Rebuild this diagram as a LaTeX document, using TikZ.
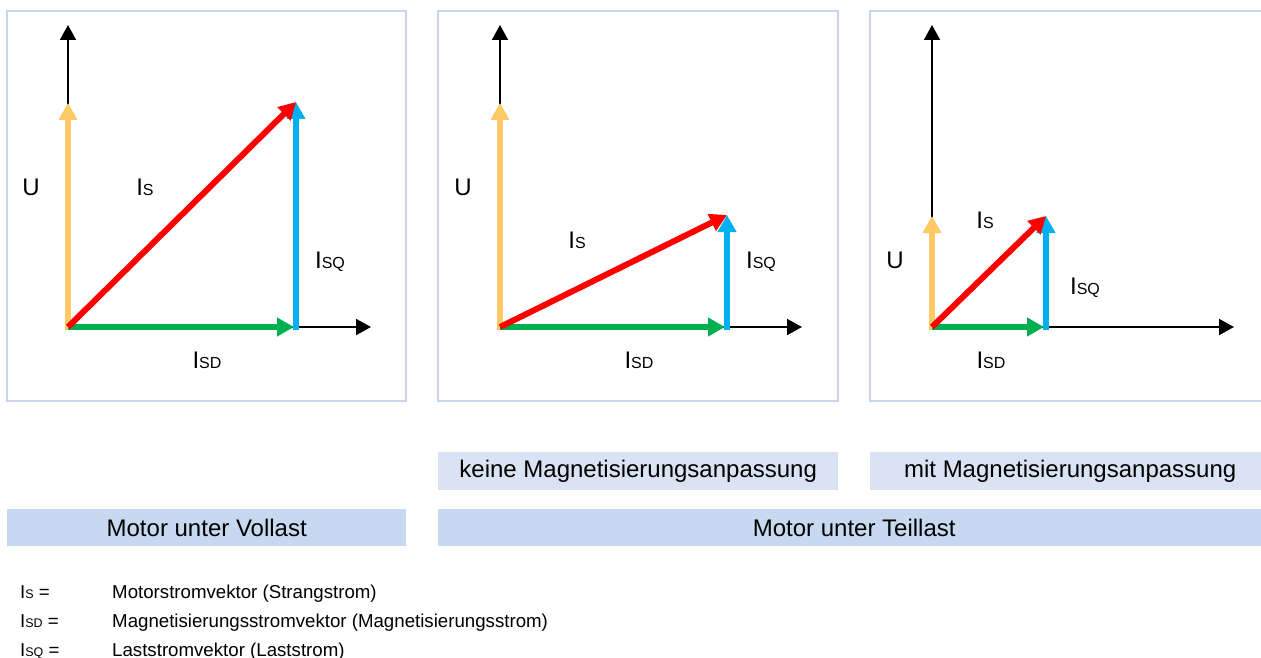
\documentclass[tikz,border=0pt]{standalone}
\usepackage{fontspec}
\setmainfont{Liberation Sans}
\usetikzlibrary{arrows.meta}
\definecolor{frameblue}{HTML}{C6D6EC}
\definecolor{capl}{HTML}{DAE3F3}
\definecolor{capd}{HTML}{C6D9F1}
\definecolor{uyel}{HTML}{FFC966}
\definecolor{isred}{HTML}{FF0000}
\definecolor{sdgreen}{HTML}{00B050}
\definecolor{sqblue}{HTML}{00B0F0}
\newcommand\Ibig[1]{I\raisebox{-0.5pt}{\fontsize{16}{16}\selectfont #1}}
\newcommand\Ismall[1]{I\raisebox{-0.5pt}{\fontsize{12.5}{12.5}\selectfont #1}}
\begin{document}
\begin{tikzpicture}[x=1pt,y=-1pt,
  panel/.style={draw=frameblue,line width=1.5pt},
  axis/.style={line width=2pt,-{Triangle[length=15pt,width=16pt]}},
  vec/.style={line width=6pt,-{Triangle[length=17pt,width=18pt]}},
  lab/.style={font=\fontsize{24}{28}\selectfont,anchor=base,inner sep=0pt},
  capbox/.style={font=\fontsize{24}{28}\selectfont,inner sep=0pt,minimum width=400pt,minimum height=38pt,anchor=north west},
  leg/.style={font=\fontsize{18.67}{22}\selectfont,anchor=base west,inner sep=0pt}]
\useasboundingbox (0,0) rectangle (1261,658);
\fill[white] (0,0) rectangle (1261,658);

% panels
\draw[panel] (7,11) rectangle (406,401);
\draw[panel] (438,11) rectangle (838,401);
\draw[panel] (870,11) rectangle (1270,401);

% ---------- panel 1
\coordinate (O1) at (68,327);
\coordinate (Y1) at (68,25);
\coordinate (X1) at (371,327);
\coordinate (U0a) at (68,330);
\coordinate (U1) at (68,103);
\coordinate (D1) at (294,327);
\coordinate (Q0a) at (296,330);
\coordinate (Q1) at (296,102);
\draw[axis] (O1) -- (Y1);
\draw[axis] (O1) -- (X1);
\draw[vec,uyel] (U0a) -- (U1);
\draw[vec,sdgreen] (O1) -- (D1);
\draw[vec,sqblue] (Q0a) -- (Q1);
\draw[vec,isred] (O1) -- (Q1);
\node[lab] (u1) at (31,195) {U};
\node[lab] (s1) at (145,195) {\Ibig{S}};
\node[lab] (sq1) at (330,268) {\Ibig{SQ}};
\node[lab] (sd1) at (207,368) {\Ibig{SD}};

% ---------- panel 2
\coordinate (O2) at (500,327);
\coordinate (Y2) at (500,25);
\coordinate (X2) at (802,327);
\coordinate (U0b) at (500,330);
\coordinate (U2) at (500,103);
\coordinate (D2) at (725,327);
\coordinate (Q0b) at (727,330);
\coordinate (Q2) at (727,215);
\draw[axis] (O2) -- (Y2);
\draw[axis] (O2) -- (X2);
\draw[vec,uyel] (U0b) -- (U2);
\draw[vec,sdgreen] (O2) -- (D2);
\draw[vec,sqblue] (Q0b) -- (Q2);
\draw[vec,isred] (O2) -- (Q2);
\node[lab] (u2) at (463,195) {U};
\node[lab] (s2) at (577,248) {\Ibig{S}};
\node[lab] (sq2) at (761,268) {\Ibig{SQ}};
\node[lab] (sd2) at (639,368) {\Ibig{SD}};

% ---------- panel 3
\coordinate (O3) at (932,327);
\coordinate (Y3) at (932,25);
\coordinate (X3) at (1234,327);
\coordinate (U0c) at (932,330);
\coordinate (U3) at (932,216);
\coordinate (D3) at (1044,327);
\coordinate (Q0c) at (1046,330);
\coordinate (Q3) at (1046,216);
\draw[axis] (O3) -- (Y3);
\draw[axis] (O3) -- (X3);
\draw[vec,uyel] (U0c) -- (U3);
\draw[vec,sdgreen] (O3) -- (D3);
\draw[vec,sqblue] (Q0c) -- (Q3);
\draw[vec,isred] (O3) -- (Q3);
\node[lab] (u3) at (895,268) {U};
\node[lab] (s3) at (985,228) {\Ibig{S}};
\node[lab] (sq3) at (1085,294) {\Ibig{SQ}};
\node[lab] (sd3) at (991,368) {\Ibig{SD}};

% ---------- caption boxes
\node[capbox,fill=capl] (keine) at (438,452) {keine Magnetisierungsanpassung};
\node[capbox,fill=capl] (mit) at (870,452) {mit Magnetisierungsanpassung};
\node[capbox,fill=capd,minimum width=399pt,minimum height=37pt] (voll) at (7,509) {Motor unter Vollast};
\node[capbox,fill=capd,minimum width=832pt,minimum height=37pt] (teil) at (438,509) {Motor unter Teillast};

% ---------- legend
\node[leg] (l1a) at (20,598) {\Ismall{S} =};
\node[leg] (l1b) at (112,598) {Motorstromvektor (Strangstrom)};
\node[leg] (l2a) at (20,627) {\Ismall{SD} =};
\node[leg] (l2b) at (112,627) {Magnetisierungsstromvektor (Magnetisierungsstrom)};
\node[leg] (l3a) at (20,656) {\Ismall{SQ} =};
\node[leg] (l3b) at (112,656) {Laststromvektor (Laststrom)};
\end{tikzpicture}
\end{document}
